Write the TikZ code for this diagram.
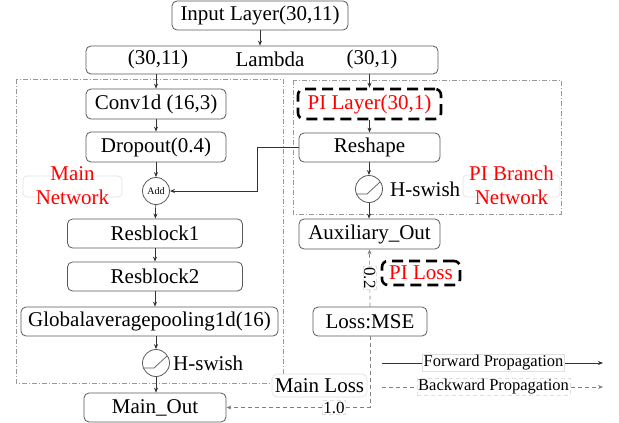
\documentclass[tikz,border=0pt]{standalone}
\usepackage{fontspec}
\setmainfont{Liberation Serif}
\usetikzlibrary{arrows.meta,calc}
\definecolor{bord}{gray}{0.35}
\definecolor{boxdash}{gray}{0.6}
\tikzset{
  box/.style={draw=bord, line width=0.8pt, rounded corners=5pt, fill=white, inner sep=0pt, minimum height=29pt, font=\fontsize{21}{25}\selectfont},
  pibox/.style={draw=black, line width=2.6pt, dash pattern=on 11pt off 6pt, rounded corners=6pt, inner sep=0pt, text=red, font=\fontsize{21}{25}\selectfont},
  txt/.style={inner sep=0pt, font=\fontsize{21}{25}\selectfont},
  redlbl/.style={inner sep=0pt, text=red, align=center, font=\fontsize{21}{24}\selectfont},
  lightbox/.style={draw=gray!25, line width=0.6pt, rounded corners=4pt, inner sep=0pt},
  act/.style={circle, draw=bord, line width=0.8pt, fill=white, minimum size=27pt, inner sep=0pt},
  arr/.style={draw=black!80, line width=0.7pt, -{Stealth[length=5pt,width=4pt]}},
  back/.style={draw=gray, line width=0.7pt, dash pattern=on 4pt off 3pt, -{Stealth[length=5pt,width=4pt]}},
  region/.style={draw=boxdash, line width=0.6pt, dash pattern=on 5pt off 2pt on 1pt off 2pt},
  elbl/.style={draw=gray!25, line width=0.5pt, fill=white, inner sep=1pt, font=\fontsize{17}{18}\selectfont},
  legtxt/.style={draw=gray!25, line width=0.5pt, fill=white, inner sep=1pt, font=\fontsize{16.5}{18}\selectfont},
}
\begin{document}
\begin{tikzpicture}[x=1pt,y=-1pt]
\useasboundingbox (0,0) rectangle (619,423);
% regions
\draw[region] (16,79) rectangle (283,383);
\draw[region] (293,80) rectangle (561,214);
% top
\node[box, minimum width=176pt] (input) at (260,15.5) {Input Layer(30,11)};
\node[box, minimum width=352pt, minimum height=28pt] (lambda) at (262,60) {};
\node[txt] (l1) at (158,59) {(30,11)};
\node[txt] (l2) at (270,59) {Lambda};
\node[txt] (l3) at (372,59) {(30,1)};
% main network
\node[box, minimum width=140pt, minimum height=30pt] (conv) at (156,104) {Conv1d (16,3)};
\node[box, minimum width=140pt, minimum height=30pt] (drop) at (156,147) {Dropout(0.4)};
\node[act, minimum size=27pt, font=\fontsize{10}{11}\selectfont] (add) at (156,191) {Add};
\node[box, minimum width=175pt] (res1) at (155,233.5) {Resblock1};
\node[box, minimum width=175pt] (res2) at (155,276.5) {Resblock2};
\node[box, minimum width=257pt] (gap) at (149.5,321.5) {Globalaveragepooling1d(16)};
\node[act] (hs1) at (156,363) {};
\node[txt, anchor=west] (hs1t) at (173,363) {H-swish};
\node[box, minimum width=142pt] (mainout) at (155,407.5) {Main\_Out};
\node[lightbox, minimum width=99pt, minimum height=21pt] (mnbox) at (72.5,186.5) {};
\node[redlbl] (mn) at (72.5,186) {Main\\Network};
% PI branch
\node[pibox, minimum width=143pt, minimum height=30pt] (pil) at (369.5,104) {PI Layer(30,1)};
\node[box, minimum width=141pt] (resh) at (369.5,147.5) {Reshape};
\node[act] (hs2) at (369,189) {};
\node[txt, anchor=west] (hs2t) at (390,189) {H-swish};
\node[lightbox, minimum width=97pt, minimum height=22pt] (pbbox) at (511.5,186) {};
\node[redlbl] (pb) at (511.5,185) {PI Branch\\Network};
\node[box, minimum width=141pt, minimum height=30pt] (aux) at (369.5,234) {Auxiliary\_Out};
\node[pibox, minimum width=78pt, minimum height=24pt] (piloss) at (421,273) {PI Loss};
\node[box, minimum width=114pt] (mse) at (370,321.5) {Loss:MSE};
\node[box, draw=gray!25, line width=0.6pt, minimum width=95pt, minimum height=23pt] (mainloss) at (319.5,385.5) {Main Loss};
% activation icons
\foreach \n in {hs1,hs2}{
  \draw[line width=0.7pt, bord] ($(\n)+(-12,5)$) -- ($(\n)+(-2,5)$) -- ($(\n)+(11,-7)$);
}
% forward arrows
\draw[arr] (input.south) -- (lambda.north -| input.south);
\draw[arr] (lambda.south -| conv.north) -- (conv.north);
\draw[arr] (lambda.south -| pil.north) -- (pil.north);
\draw[arr] (conv) -- (drop);
\draw[arr] (drop) -- (add);
\draw[arr] (add) -- (res1);
\draw[arr] (res1) -- (res2);
\draw[arr] (res2) -- (res2.south |- gap.north);
\draw[arr] (hs1.north |- gap.south) -- (hs1);
\draw[arr] (hs1) -- (hs1 |- mainout.north);
\draw[arr] (pil) -- (resh.north -| pil);
\draw[arr] (resh.south -| hs2) -- (hs2);
\draw[arr] (hs2) -- (hs2 |- aux.north);
\coordinate (bend) at (257,191);
\draw[arr] (resh.west) -| (bend) -- (add.east);
% backward
\draw[back] (mse.north) -- node[elbl, rotate=-90, pos=0.5] (w2) {0.2} (aux.south);
\draw[back] (mse.south) |- node[elbl, pos=0.625] (w1) {1.0} (mainout.east);
% legend
\coordinate (f1) at (382,363);
\coordinate (f2) at (603,363);
\coordinate (b1) at (382,387);
\coordinate (b2) at (603,387);
\draw[arr] (f1) -- node[legtxt, pos=0.505] (ft) {Forward Propagation} (f2);
\draw[back] (b1) -- node[legtxt, pos=0.505] (bt) {Backward Propagation} (b2);
\end{tikzpicture}
\end{document}
